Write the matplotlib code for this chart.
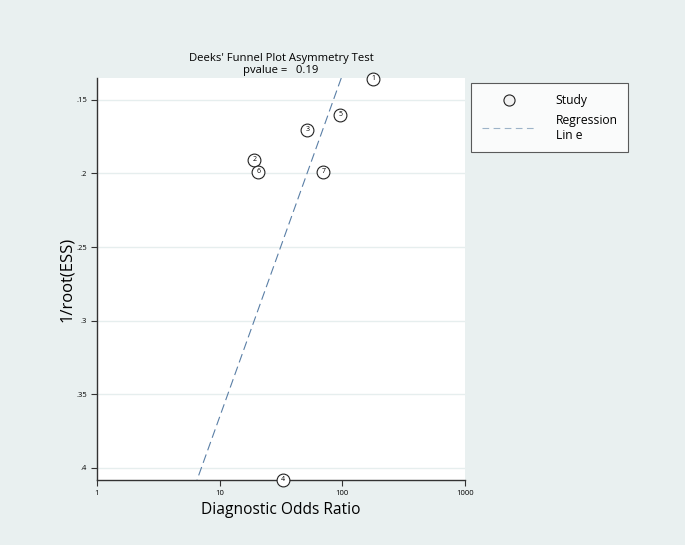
import matplotlib.pyplot as plt
import numpy as np

plt.rcParams['font.family'] = ['Open Sans', 'DejaVu Sans']

# study estimates
study_ids = ['1', '2', '3', '4', '5', '6', '7']
dor = [179, 19.1, 52, 33, 96, 20.6, 70]
inv_root_ess = [0.1357, 0.1908, 0.1704, 0.408, 0.1602, 0.199, 0.199]

# regression line: ln(DOR) = intercept + slope * 1/root(ESS)
reg_intercept = 5.927
reg_slope = -9.92
pvalue = 0.19

yticks = [0.15, 0.2, 0.25, 0.3, 0.35, 0.4]
ytick_labels = ['.15', '.2', '.25', '.3', '.35', '.4']
xticks = [1, 10, 100, 1000]
xtick_labels = ['1', '10', '100', '1000']

bg = '#e9f0f0'

fig = plt.figure(figsize=(6.85, 5.45), dpi=100, facecolor=bg)
ax = fig.add_axes([0.1416, 0.1193, 0.5372, 0.7376])
ax.set_facecolor('white')

ax.set_xscale('log')
ax.set_xlim(1, 1000)
ax.set_ylim(0.4082, 0.1352)

for yt in yticks:
    ax.axhline(yt, color='#e6eeee', lw=1.0, zorder=0)

yy = np.linspace(0.1352, 0.4082, 50)
ax.plot(np.exp(reg_intercept + reg_slope * yy), yy, color='#5a7fa6',
        lw=0.8, dashes=(8, 4), zorder=2)

ax.scatter(dor, inv_root_ess, s=85, facecolor='white', edgecolor='#222222',
           linewidth=0.8, zorder=3, clip_on=False)
for sid, x, y in zip(study_ids, dor, inv_root_ess):
    ax.text(x, y, sid, fontsize=5, ha='center', va='center', zorder=4)

ax.set_xticks(xticks)
ax.set_xticklabels(xtick_labels, fontsize=5.5)
ax.minorticks_off()
ax.set_yticks(yticks)
ax.set_yticklabels(ytick_labels, fontsize=5.5)
ax.tick_params(direction='out', length=4, width=0.8, color='#333333', pad=3)

for side in ['top', 'right']:
    ax.spines[side].set_visible(False)
for side in ['left', 'bottom']:
    ax.spines[side].set_color('#333333')
    ax.spines[side].set_linewidth(1.0)

ax.set_xlabel('Diagnostic Odds Ratio', fontsize=11.2, labelpad=4)
ax.set_ylabel('1/root(ESS)', fontsize=12, labelpad=1)
ax.set_title("Deeks' Funnel Plot Asymmetry Test\npvalue =   %.2f" % pvalue,
             fontsize=8.1, linespacing=1.2, pad=3.5)

h_study = plt.Line2D([], [], marker='o', ls='none', markersize=8,
                     markerfacecolor='#f2f2f2', markeredgecolor='#222222', markeredgewidth=0.8)
h_line = plt.Line2D([], [], color='#9db3c8', lw=0.8, dashes=(6, 4))
leg = fig.legend([h_study, h_line], ['Study', 'Regression\nLin e'],
                 loc='upper left', bbox_to_anchor=(0.6876, 0.8477),
                 borderaxespad=0, fontsize=8.7, frameon=True, fancybox=False,
                 edgecolor='#333333', handlelength=4.5, borderpad=0.9,
                 labelspacing=0.55, handletextpad=1.6)
leg.get_frame().set_linewidth(0.8)

fig.savefig('out.png', dpi=100, facecolor=bg)
